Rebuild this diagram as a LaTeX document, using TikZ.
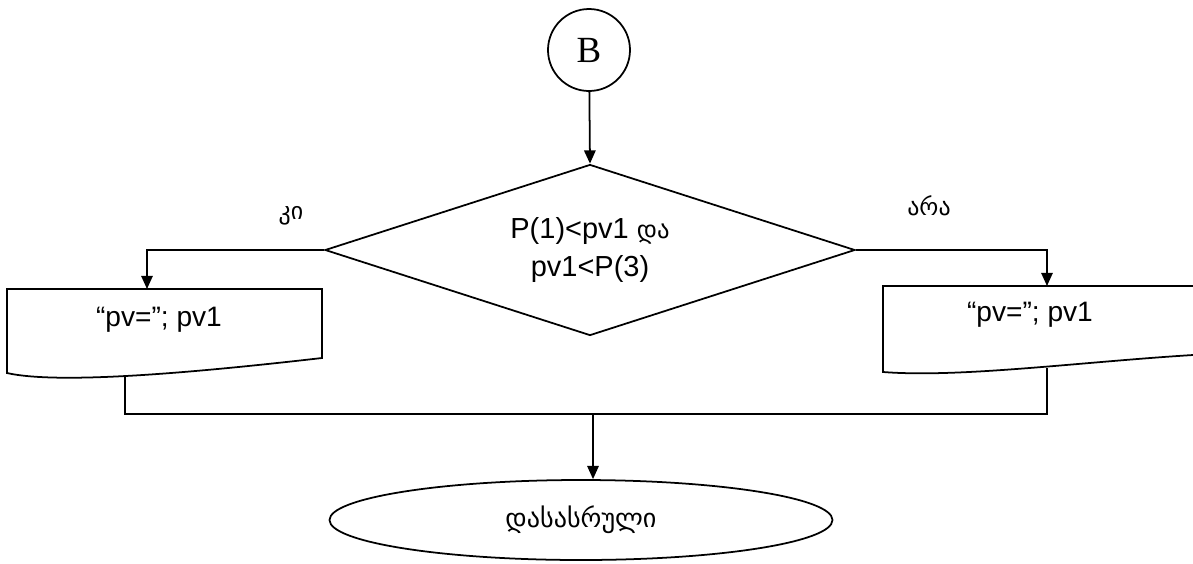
\documentclass[tikz,border=0pt]{standalone}
\usepackage{fontspec}
\setmainfont{Liberation Sans}
\newfontfamily\geo[Scale=0.85]{DejaVu Sans}
\newfontfamily\lettr{Liberation Serif}
\usepackage{tikz}
\usetikzlibrary{shapes.geometric,arrows.meta}
\tikzset{
	conn/.style={circle,draw,line width=1pt,minimum size=16.4mm,inner sep=0pt,font=\lettr\fontsize{21}{21}\selectfont},
	decision/.style={diamond,draw,line width=1pt,aspect=3.1,minimum width=106mm,minimum height=34.2mm,inner sep=0pt,align=center,font=\fontsize{16.5}{21.6}\selectfont},
	terminal/.style={ellipse,draw,line width=1pt,minimum width=100.6mm,minimum height=16mm,inner sep=0pt,font=\geo\fontsize{17.5}{20}\selectfont},
	outtext/.style={inner sep=0pt,font=\fontsize{16}{20}\selectfont},
	branch/.style={inner sep=0pt,font=\geo\fontsize{16}{20}\selectfont},
	arr/.style={-{Triangle[width=6.5pt,length=7.5pt]}}
}

\begin{document}
\begin{tikzpicture}[x=0.2mm,y=-0.2mm,line width=1pt]
	\useasboundingbox (0,0) rectangle (1193,563);
	\node[conn] (B) at (589,50) {B};
	\node[decision] (cond) at (590,250) {P(1)<pv1 {\geo და}\\pv1<P(3)};
	\node[branch] (yes) at (291,216) {კი};
	\node[branch] (no) at (929,206) {არა};
	% output boxes
	\node[outtext] (outL) at (159,320) {“pv=”; pv1};
	\node[outtext] (outR) at (1030,315) {“pv=”; pv1};
	\draw (7,289) -- (322,289) -- (322,358) .. controls (200,372) and (60,385) .. (7,373) -- cycle;
	\draw (1193,286) -- (883,286) -- (883,372) .. controls (960,378) and (1080,362) .. (1193,355);
	\coordinate (inL) at (147,289);
	\coordinate (inR) at (1047,286);
	\coordinate (botL) at (125,377);
	\coordinate (botR) at (1047,368);
	\coordinate (joinL) at (125,414);
	\coordinate (joinR) at (1047,414);
	\coordinate (join) at (593,414);
	\node[terminal] (end) at (581,520) {დასასრული};
	\draw[arr] (B) -- (cond.north);
	\draw[arr] (cond.west) -| (inL);
	\draw[arr] (cond.east) -| (inR);
	\draw (botL) -- (joinL) -- (joinR) -- (botR);
	\draw[arr] (join) -- (join |- end.north);
\end{tikzpicture}
\end{document}
